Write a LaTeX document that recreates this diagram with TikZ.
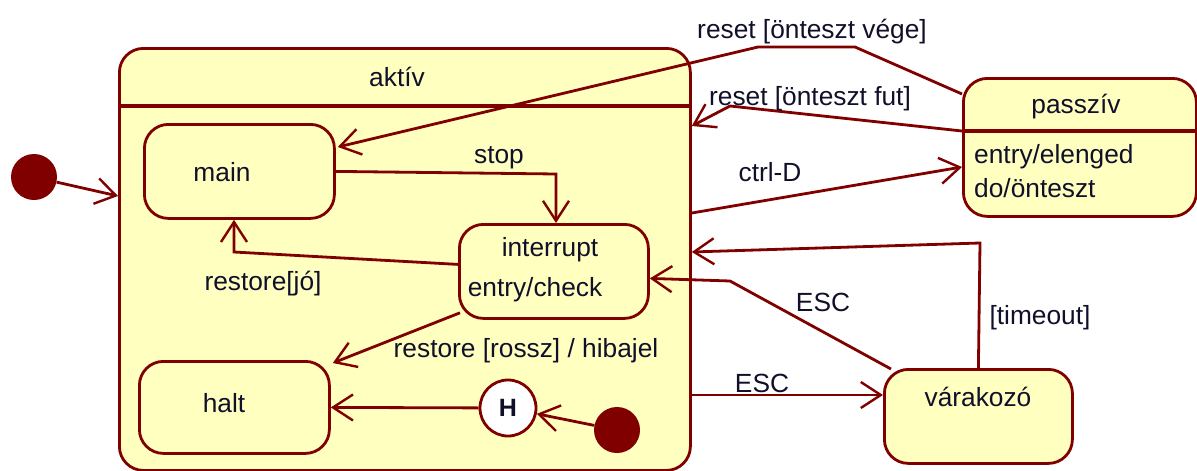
\documentclass[tikz,border=0pt]{standalone}
\usepackage{fontspec}
\setmainfont{Liberation Sans}
\usetikzlibrary{arrows.meta,calc}
\definecolor{lc}{HTML}{800000}
\definecolor{fc}{HTML}{FFFFBF}
\definecolor{tc}{HTML}{10102A}
\begin{document}
\begin{tikzpicture}[x=1pt,y=-1pt,
  every node/.style={font=\fontsize{26.3}{30}\selectfont, text=tc},
  box/.style={draw=lc, fill=fc, line width=2.8pt, rounded corners=24pt, anchor=north west, inner sep=0pt},
  conn/.style={draw=lc, line width=2.8pt, -{Straight Barb[length=20pt,width=26pt,line width=2.4pt]}},
  lbl/.style={inner sep=0pt},
  dot/.style={circle, fill=lc, minimum size=46pt, inner sep=0pt}]
\useasboundingbox (0,0) rectangle (1197,471);

% states
\node[box, minimum width=571pt, minimum height=422pt] (aktiv) at (118,47) {};
\draw[lc, line width=4.8pt] ($(aktiv.north west)+(0,59)$) -- ($(aktiv.north east)+(0,59)$);
\node[lbl] (aktivlbl) at (397,77) {aktív};

\node[box, minimum width=190pt, minimum height=94pt] (main) at (143,123) {};
\node[lbl] (mainlbl) at (222,172) {main};

\node[box, minimum width=189pt, minimum height=94pt] (interrupt) at (458,223) {};
\node[lbl] (intlbl) at (550,250) {interrupt};
\node[lbl] (intentry) at (535,290) {entry/check};

\node[box, minimum width=190pt, minimum height=92pt] (halt) at (138,360) {};
\node[lbl] (haltlbl) at (224,403) {halt};

\node[box, minimum width=233pt, minimum height=138pt] (passziv) at (962,77) {};
\draw[lc, line width=4.8pt] ($(passziv.north west)+(0,54)$) -- ($(passziv.north east)+(0,54)$);
\node[lbl] (passzivlbl) at (1076,107) {passzív};
\node[lbl, anchor=west] (pentry) at (974,157) {entry/elenged};
\node[lbl, anchor=west] (pdo) at (974,188) {do/önteszt};

\node[box, minimum width=188pt, minimum height=94pt] (vara) at (883,368) {};
\node[lbl] (varalbl) at (978,397) {várakozó};

\node[dot] (init) at (34,177) {};
\node[dot] (init2) at (617,430) {};
\node[circle, draw=lc, fill=white, line width=2.8pt, minimum size=56pt, inner sep=0pt, font=\fontsize{25}{30}\selectfont\bfseries] (hist) at (508,408) {H};

% bend points
\coordinate (b1) at (855,47);
\coordinate (b2) at (758,47);
\coordinate (b3) at (730,106);
\coordinate (b4) at (556,174);
\coordinate (b5) at (234,252);
\coordinate (b6) at (730,281);
\coordinate (b7) at (980,243);

% connectors
\draw[conn] (init) -- ($(aktiv.north west)+(0,149)$);
\draw[conn] ($(passziv.north west)+(0,17)$) -- (b1) -- (b2) -- ($(main.north east)+(2,24)$);
\draw[conn] ($(passziv.north west)+(0,54)$) -- (b3) -- ($(aktiv.north east)+(0,79)$);
\draw[conn] ($(aktiv.north east)+(0,166)$) -- ($(passziv.north west)+(0,90)$);
\draw[conn] (main.east) -- (b4) -- (b4 |- interrupt.north);
\draw[conn] ($(interrupt.west)+(0,-7)$) -- (b5) -- (b5 |- main.south);
\draw[conn] ($(interrupt.south west)+(2,-7)$) -- ($(halt.north east)+(2,3)$);
\draw[conn] (hist) -- (halt.east);
\draw[conn] (init2) -- (hist);
\draw[conn] ($(aktiv.north east)+(0,348)$) -- ($(vara.north west)+(0,27)$);
\draw[conn] ($(vara.north west)+(8,1)$) -- (b6) -- ($(interrupt.east)+(0,7)$);
\draw[conn] (vara.north) -- (b7) -- ($(aktiv.north east)+(0,205)$);

% labels
\node[lbl] (l1) at (812,32) {reset [önteszt vége]};
\node[lbl] (l2) at (810,99) {reset [önteszt fut]};
\node[lbl] (l3) at (770,172) {ctrl-D};
\node[lbl] (l4) at (499,158) {stop};
\node[lbl] (l5) at (263,284) {restore[jó]};
\node[lbl] (l6) at (526,351) {restore [rossz] / hibajel};
\node[lbl] (l7) at (762,383) {ESC};
\node[lbl] (l8) at (823,302) {ESC};
\node[lbl] (l9) at (1040,318) {[timeout]};
\end{tikzpicture}
\end{document}
